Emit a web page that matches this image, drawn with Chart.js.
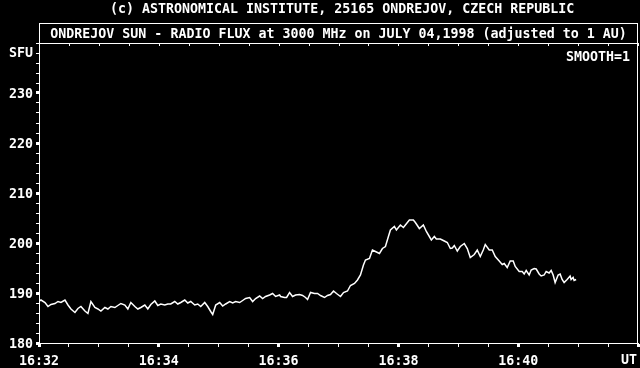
<!DOCTYPE html>
<html>
<head>
<meta charset="utf-8">
<script src="https://cdn.jsdelivr.net/npm/chart.js@4.4.0/dist/chart.umd.min.js"></script>
<style>
  html, body { margin: 0; padding: 0; background: #000; }
  #wrap { position: relative; width: 640px; height: 368px; overflow: hidden; }
  #flux-chart { position: absolute; left: 0; top: 0; display: block; }
  .txt { position: absolute; color: #fff; font: bold 13.3px 'DejaVu Sans Mono', monospace; white-space: pre; line-height: 16px; }
  #title-box { position: absolute; left: 39px; top: 23px; width: 599px; height: 21px; box-sizing: border-box;
               border: 1px solid #fff; border-bottom: none; text-align: center; line-height: 19px; }
</style>
</head>
<body>
<div id="wrap">
  <canvas id="flux-chart" width="640" height="368"></canvas>
  <div class="txt" style="left:110px; top:1px;">(c) ASTRONOMICAL INSTITUTE, 25165 ONDREJOV, CZECH REPUBLIC</div>
  <div class="txt" id="title-box">ONDREJOV SUN - RADIO FLUX at 3000 MHz on JULY 04,1998 (adjusted to 1 AU)</div>
  <div class="txt" style="left:9px; top:45px;">SFU</div>
  <div class="txt" style="left:566px; top:49px;">SMOOTH=1</div>
  <div class="txt" style="left:621px; top:352px;">UT</div>
</div>
<script>
// seconds after 16:32:00 UT
const seconds = [
  0, 2, 6, 9, 12, 16, 19, 22, 26, 29, 32, 36, 39, 42, 46, 49, 52, 56, 59, 62,
  66, 69, 72, 76, 79, 82, 86, 89, 92, 96, 99, 102, 106, 109, 112, 116, 119,
  122, 126, 129, 132, 136, 139, 142, 146, 149, 152, 156, 159, 162, 166, 169, 172, 174, 177,
  181, 184, 187, 191, 194, 197, 201, 204, 207, 211, 214, 217, 221, 224, 227, 231, 234, 237, 241,
  242, 246, 248, 251, 254, 257, 261, 264, 267, 269, 272, 276, 279, 282, 286, 289, 292, 295, 298,
  302, 305, 309, 312, 316, 319, 322, 325, 327, 331, 334, 337, 341, 344, 347, 350, 352, 356, 358,
  362, 365, 367, 371, 375, 377, 381, 385, 388, 391, 393, 396, 398, 402, 406, 409, 412, 414, 416,
  419, 422, 426, 429, 432, 436, 439, 442, 445, 447, 451, 454, 457, 461, 464, 466, 469, 472, 475, 477, 481,
  484, 486, 488, 491, 493, 496, 498, 501, 503, 506, 508, 511, 513, 515, 517, 520, 522, 524, 526,
  529, 532, 533, 535, 536, 538
];
// flux, SFU
const flux = [
  188.3, 188.6, 188.1, 187.3, 187.7, 187.9, 188.3, 188.1, 188.6, 187.6, 186.8, 186.1, 186.9, 187.3, 186.4, 185.9, 188.3, 187.1, 186.8, 186.4,
  187.1, 186.8, 187.3, 187.1, 187.5, 187.9, 187.6, 186.8, 188.1, 187.3, 186.8, 187.1, 187.6, 186.8, 187.7, 188.4, 187.5,
  187.8, 187.6, 187.8, 187.8, 188.3, 187.8, 188.1, 188.6, 188.0, 188.3, 187.6, 187.8, 187.3, 188.1, 187.3, 186.3, 185.7, 187.6,
  188.1, 187.4, 187.8, 188.3, 188.0, 188.3, 188.1, 188.5, 188.9, 189.1, 188.3, 188.9, 189.4, 188.9, 189.3, 189.6, 189.9, 189.3, 189.6,
  189.3, 189.1, 189.1, 190.1, 189.3, 189.6, 189.7, 189.5, 189.1, 188.7, 190.1, 189.9, 189.9, 189.5, 189.1, 189.5, 189.7, 190.4, 189.9,
  189.3, 190.1, 190.4, 191.5, 191.9, 192.6, 193.6, 195.6, 196.6, 196.9, 198.6, 198.3, 197.9, 198.9, 199.3, 201.3, 202.6, 203.3, 202.6,
  203.6, 203.1, 203.6, 204.6, 204.6, 204.1, 202.9, 203.6, 202.3, 201.3, 200.6, 201.3, 200.8, 200.8, 200.4, 200.1, 198.9, 199.0, 199.5,
  198.4, 199.3, 199.9, 198.9, 197.1, 197.7, 198.6, 197.3, 198.6, 199.7, 198.6, 198.6, 197.3, 196.4, 195.7, 195.9, 195.1, 196.4, 196.4, 195.3, 194.3,
  194.3, 193.8, 194.5, 193.6, 194.6, 194.9, 194.8, 193.8, 193.4, 193.6, 194.3, 194.0, 194.5, 193.6, 192.1, 193.6, 193.8, 192.7, 192.1,
  192.7, 193.4, 192.7, 193.1, 192.5, 192.7
];
const timeLabels = ['16:32', '16:34', '16:36', '16:38', '16:40'];
const fluxLabels = [180, 190, 200, 210, 220, 230];

const tickFont = { family: 'DejaVu Sans Mono', size: 13.3, weight: 'bold' };

// top and right border of the plot, with small ticks hanging from the top edge
const framePlugin = {
  id: 'frame',
  afterDraw(chart) {
    const { ctx, chartArea: a, scales: { x } } = chart;
    ctx.save();
    ctx.strokeStyle = '#fff';
    ctx.lineWidth = 1;
    ctx.beginPath();
    ctx.moveTo(a.left, a.top + 0.5);
    ctx.lineTo(a.right, a.top + 0.5);
    ctx.moveTo(a.right - 0.5, a.top);
    ctx.lineTo(a.right - 0.5, a.bottom);
    x.ticks.forEach(t => {
      const px = Math.round(x.getPixelForValue(t.value)) + 0.5;
      ctx.moveTo(px, a.top);
      ctx.lineTo(px, a.top + 3);
    });
    ctx.stroke();
    ctx.restore();
  }
};

new Chart(document.getElementById('flux-chart'), {
  type: 'line',
  data: {
    datasets: [{
      data: seconds.map((s, i) => ({ x: s, y: flux[i] })),
      borderColor: '#fff',
      borderWidth: 1.5,
      pointRadius: 0,
      tension: 0,
      fill: false
    }]
  },
  options: {
    responsive: false,
    animation: false,
    events: [],
    layout: { padding: { top: 43, right: 2, left: 0, bottom: 0 } },
    plugins: { legend: { display: false }, tooltip: { enabled: false } },
    scales: {
      x: {
        type: 'linear',
        min: 0,
        max: 600,
        afterFit: (scale) => { scale.height = 25; scale.paddingLeft = 0; scale.paddingRight = 0; },
        border: { color: '#fff', width: 1 },
        grid: {
          drawOnChartArea: false,
          tickLength: 4,
          tickColor: '#fff',
          tickWidth: (c) => (c.tick && c.tick.value % 120 === 0 ? 3 : 1)
        },
        ticks: {
          stepSize: 30,
          autoSkip: false,
          maxRotation: 0,
          color: '#fff',
          font: tickFont,
          padding: 7,
          callback: (v) => (v % 120 === 0 && timeLabels[v / 120]) ? timeLabels[v / 120] : ''
        }
      },
      y: {
        min: 180,
        max: 240,
        afterFit: (scale) => { scale.width = 39; scale.paddingTop = 0; scale.paddingBottom = 0; },
        border: { color: '#fff', width: 1 },
        grid: {
          drawOnChartArea: false,
          tickLength: 3,
          tickColor: '#fff',
          tickWidth: (c) => (c.tick && fluxLabels.includes(c.tick.value) ? 3 : 1)
        },
        ticks: {
          stepSize: 2,
          autoSkip: false,
          color: '#fff',
          font: tickFont,
          padding: 3,
          labelOffset: 2,
          callback: (v) => fluxLabels.includes(v) ? String(v) : ''
        }
      }
    }
  },
  plugins: [framePlugin]
});
</script>
</body>
</html>
